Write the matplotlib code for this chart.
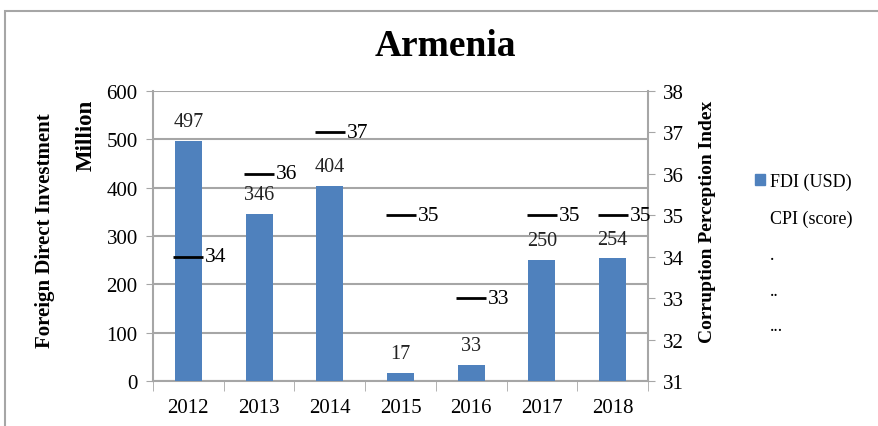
import matplotlib
matplotlib.use('Agg')
import matplotlib.pyplot as plt
from matplotlib.patches import Patch, Rectangle
from matplotlib.lines import Line2D

# data
years = ['2012', '2013', '2014', '2015', '2016', '2017', '2018']
fdi = [497, 346, 404, 17, 33, 250, 254]
cpi = [34, 36, 37, 35, 33, 35, 35]
legend_labels = ['FDI (USD)', 'CPI (score)', '.', '..', '...']

plt.rcParams['font.family'] = ['Liberation Serif', 'DejaVu Serif']
blue = '#4F81BD'
grey = '#A6A6A6'

fig = plt.figure(figsize=(8.79, 4.27), dpi=100)
# outer chart frame
fig.patches.append(Rectangle((5 / 879, -0.2), 2, 1.2 - 12 / 427, transform=fig.transFigure,
                             fill=False, edgecolor=grey, lw=1.5))

ax = fig.add_axes([153 / 879, 1 - 382 / 427, 495 / 879, 290 / 427])
x = list(range(len(years)))
ax.bar(x, fdi, width=0.38, color=blue, zorder=3)
for xi, v in zip(x, fdi):
    ax.text(xi, v + 20, str(v), ha='center', va='bottom', fontsize=14.5, color='#222222', zorder=4)

ax.set_xlim(-0.5, len(years) - 0.5)
ax.set_ylim(0, 600)
ax.set_yticks(range(0, 601, 100))
ax.set_xticks(x)
ax.set_xticklabels(years, fontsize=15)
ax.set_xticks([i - 0.5 for i in range(len(years) + 1)], minor=True)
ax.tick_params(axis='x', which='major', length=0, pad=12)
ax.tick_params(axis='x', which='minor', length=7, color=grey, direction='out')
ax.tick_params(axis='y', length=5, color=grey, labelsize=15, pad=6)
ax.grid(axis='y', color=grey, lw=1.5, zorder=0)
for s in ['top', 'right']:
    ax.spines[s].set_visible(False)
for s in ['left', 'bottom']:
    ax.spines[s].set_color(grey)
    ax.spines[s].set_linewidth(1.5)

ax2 = ax.twinx()
ax2.set_ylim(31, 38)
ax2.set_yticks(range(31, 39))
ax2.plot(x, cpi, ls='none', marker='_', ms=21, mew=2, color='black', zorder=5)
for xi, v in zip(x, cpi):
    ax2.text(xi + 0.24, v, str(v), ha='left', va='center', fontsize=15.5, color='black')
ax2.tick_params(axis='y', length=5, color=grey, labelsize=15, pad=6)
for s in ['top', 'left', 'bottom']:
    ax2.spines[s].set_visible(False)
ax2.spines['right'].set_color(grey)
ax2.spines['right'].set_linewidth(1.5)

fig.text(445 / 879, 1 - 46 / 427, 'Armenia', ha='center', va='center', fontsize=27, fontweight='bold')
fig.text(45 / 879, 1 - 231 / 427, 'Foreign Direct Investment', rotation=90, ha='center', va='center',
         fontsize=15, fontweight='bold')
fig.text(86 / 879, 1 - 135 / 427, 'Million', rotation=90, ha='center', va='center',
         fontsize=16.5, fontweight='bold')
fig.text(707 / 879, 1 - 222 / 427, 'Corruption Perception Index', rotation=90, ha='center', va='center',
         fontsize=14, fontweight='bold')

handles = [Patch(color=blue)] + [Line2D([], [], ls='none') for _ in legend_labels[1:]]
fig.legend(handles, legend_labels, loc='upper left', bbox_to_anchor=(746 / 879, 1 - 165 / 427),
           frameon=False, fontsize=13, labelspacing=1.05, handlelength=0.55, handleheight=0.55,
           handletextpad=0.3, borderpad=0)

fig.savefig('out.png', dpi=100)
